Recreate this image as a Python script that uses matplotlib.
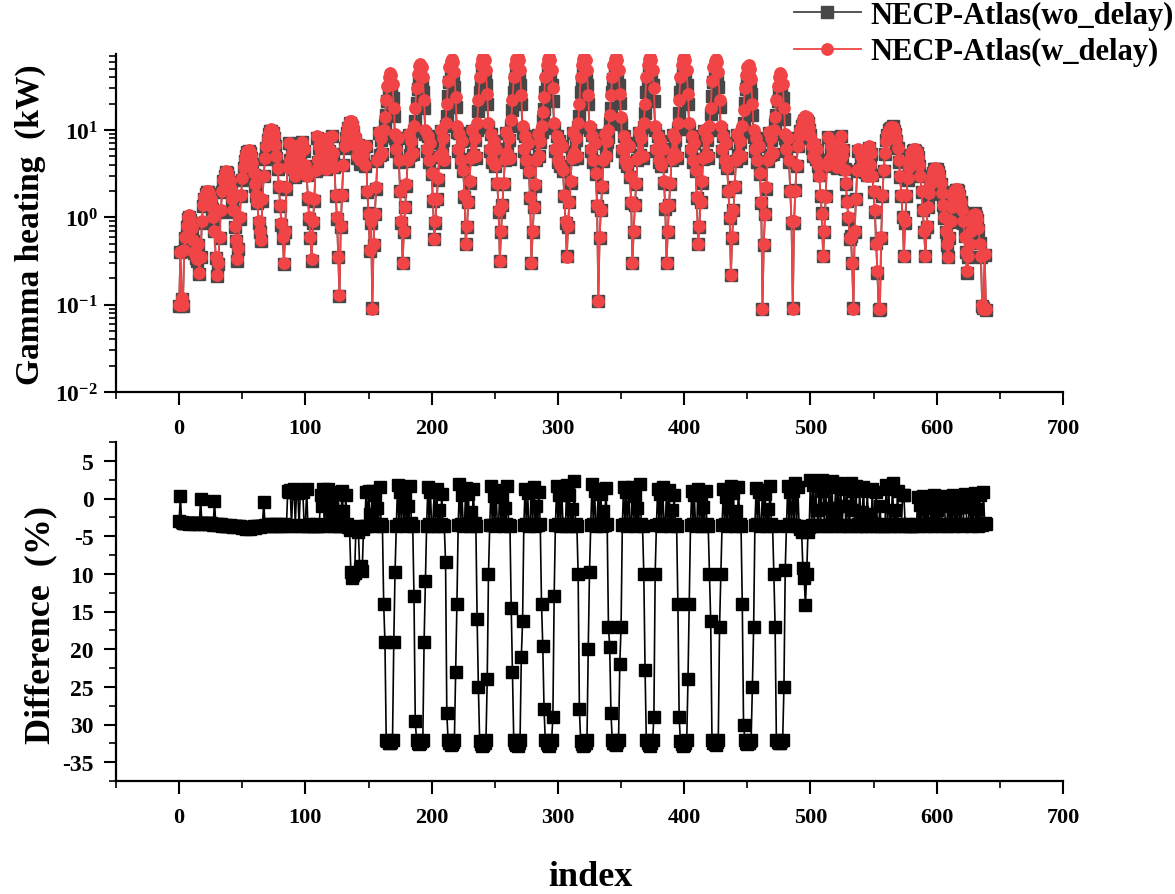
import numpy as np
import matplotlib
matplotlib.use("Agg")
import matplotlib.pyplot as plt
from matplotlib.ticker import MultipleLocator, FixedLocator, FixedFormatter, LogLocator, NullFormatter

# ---------------- data ----------------
# index 0-83 : left arches
w_a = [0.1, 0.4, 0.12, 0.1, 0.42, 0.6, 0.8, 1.0, 1.05, 0.95, 0.75, 0.55, 0.4, 0.35, 0.33, 0.5, 0.23,
       0.35, 0.9, 1.4, 1.7, 1.9, 2.0, 2.0, 1.9, 1.6, 1.3, 1.0, 0.7, 0.35, 0.22, 0.3,
       0.6, 1.2, 2.0, 2.7, 3.1, 3.4, 3.3, 3.0, 2.6, 2.1, 1.6, 1.2, 0.8, 0.55, 0.33, 0.45,
       1.0, 1.8, 2.8, 3.8, 4.6, 5.3, 5.8, 5.9, 5.6, 5.0, 4.2, 3.2, 2.4, 1.8, 1.5, 0.9, 0.7, 0.55,
       1.6, 3.0, 4.8, 6.5, 8.0, 9.2, 10.0, 10.2, 9.6, 8.5, 6.8, 5.0, 3.7, 2.3, 1.4, 0.85, 0.6, 0.3]
wo_a = [0.097, 0.4, 0.116, 0.097, 0.406, 0.58, 0.774, 0.968, 1.01, 0.919, 0.726, 0.532, 0.386, 0.338, 0.319, 0.484, 0.222,
        0.35, 0.87, 1.36, 1.64, 1.84, 1.93, 1.93, 1.84, 1.55, 1.26, 0.965, 0.698, 0.338, 0.212, 0.29,
        0.579, 1.16, 1.93, 2.61, 2.99, 3.28, 3.18, 2.89, 2.51, 2.02, 1.54, 1.15, 0.77, 0.53, 0.317, 0.433,
        0.963, 1.73, 2.69, 3.66, 4.42, 5.09, 5.57, 5.68, 5.38, 4.81, 4.04, 3.08, 2.31, 1.73, 1.45, 0.868, 0.673, 0.53,
        1.54, 2.99, 4.63, 6.27, 7.73, 8.88, 9.64, 9.85, 9.26, 8.19, 6.56, 4.83, 3.57, 2.22, 1.35, 0.819, 0.579, 0.29]
diff_a = [-3.0, 0.3, -3.1, -3.2, -3.3, -3.2, -3.3, -3.2, -3.4, -3.3, -3.2, -3.3, -3.4, -3.3, -3.2, -3.3, -3.4,
          0.0, -3.3, -3.2, -3.4, -3.3, -3.3, -3.4, -3.2, -3.3, -3.4, -3.5, -0.3, -3.4, -3.5, -3.4,
          -3.5, -3.4, -3.6, -3.5, -3.6, -3.5, -3.7, -3.6, -3.5, -3.7, -3.6, -3.8, -3.7, -3.6, -3.8, -3.7,
          -3.7, -3.8, -3.9, -3.8, -3.9, -4.0, -3.9, -3.8, -4.0, -3.9, -3.8, -3.7, -3.9, -3.8, -3.7, -3.6, -3.8, -3.7,
          -3.6, -0.4, -3.5, -3.6, -3.4, -3.5, -3.6, -3.4, -3.5, -3.6, -3.5, -3.4, -3.6, -3.5, -3.4, -3.6, -3.5, -3.4]

# index 84-152
w_b = [0.7, 2.2, 3.8, 7.0, 4.5, 5.5, 3.5, 6.5, 3.0, 5.0,
       4.0, 4.2, 5.5, 7.2, 3.2, 6.0, 4.0, 3.0, 1.7, 1.0,
       0.6, 0.33, 0.9, 1.6, 3.5, 8.5, 4.5, 6.5, 5.0, 5.5,
       4.2, 7.0, 3.6, 8.0, 5.0, 6.0, 4.5, 8.5, 5.5, 3.8,
       1.8, 1.0, 0.35, 0.13, 0.8, 1.8, 4.0, 6.5, 8.0, 9.5,
       11, 12.5, 12.8, 12, 10.5, 8.5, 6.5, 5.0, 7.0, 4.5,
       6.0, 5.0, 5.2, 4.0, 6.5, 2.0, 1.1, 0.42, 0.9]
wo_b = [0.676, 2.12, 3.84, 7.06, 4.55, 5.3, 3.53, 6.58, 2.9, 5.05,
        4.03, 4.04, 5.56, 7.27, 3.23, 5.78, 3.86, 3.04, 1.64, 0.966,
        0.579, 0.318, 0.868, 1.54, 3.38, 8.19, 4.34, 6.26, 5.03, 5.45,
        4.25, 6.75, 3.61, 7.72, 5.07, 5.8, 4.48, 8.57, 5.3, 3.73,
        1.74, 0.963, 0.352, 0.125, 0.772, 1.82, 3.94, 6.27, 8.04, 9.18,
        10.6, 12.0, 11.5, 10.7, 9.43, 7.66, 6.24, 4.82, 6.69, 4.08,
        5.46, 4.52, 4.99, 3.85, 6.55, 1.93, 1.11, 0.412, 0.869]
diff_b = [-3.5, -3.6, 1.0, 0.8, 1.1, -3.6, 0.9, 1.2, -3.5, 1.0,
          0.7, -3.7, 1.1, 1.0, 0.8, -3.6, -3.5, 1.2, -3.6, -3.4,
          -3.5, -3.7, -3.6, -3.5, -3.4, -3.6, -3.5, -3.7, 0.5, -1.0,
          1.2, -3.6, 0.3, -3.5, 1.3, -3.4, -0.5, 0.8, -3.6, -1.8,
          -3.5, -3.7, 0.6, -3.6, -3.5, 1.0, -1.6, -3.6, 0.5, -3.4,
          -3.8, -4.2, -9.8, -10.5, -10.2, -9.9, -4.0, -3.6, -4.5, -9.3,
          -9.0, -9.6, -4.0, -3.7, 0.8, -3.6, 1.0, -2.0, -3.5]

# index 153-485 : thirteen rows with the large peaks
w_p1 = [0.09, 0.5, 1.1, 2.2, 4.5, 9.5, 5.0, 8.0, 5.5, 10, 14, 22, 32, 40, 45, 42, 34, 18, 9, 6, 8, 4.5, 2.0, 0.9]
wo_p1 = [0.091, 0.48, 1.1, 2.1, 4.4, 9.2, 5.1, 7.7, 5.3, 8.6, 11.3, 15, 21.7, 27, 30.4, 28.4, 23.1, 14.6, 8.1, 5.8, 8.1, 4.3, 2.0, 0.87]
diff_p1 = [1.0, -3.4, 0.5, -3.6, -1.2, -3.5, 1.5, -3.4, -3.6, -14, -19, -32.0, -32.2, -32.4, -32.5, -32.3, -32.0, -19, -9.7, -3.6, 1.8, -3.4, 0.8, -3.5]

w_p2 = [0.3, 0.7, 1.3, 2.4, 4.5, 9, 5, 7.5, 5.5, 11, 18, 30, 44, 54, 57, 52, 40, 22, 10, 6, 8.5, 4.5, 7, 3.2, 1.6]
wo_p2 = [0.3, 0.68, 1.3, 2.3, 4.4, 8.7, 5.1, 7.2, 5.3, 9.6, 12.7, 20.4, 29.7, 36.4, 38.5, 35.3, 27.2, 17.8, 8.9, 5.8, 8.6, 4.3, 7.1, 3.1, 1.55]
diff_p2 = [1.2, -3.4, 0.4, -3.6, -1.0, -3.5, 1.6, -3.3, -3.6, -13, -29.5, -32.0, -32.4, -32.6, -32.5, -32.2, -32.0, -19, -11, -3.6, 1.5, -3.4, 0.9, -3.5, -3.6]

w_p3 = [0.57, 0.9, 1.6, 2.8, 5, 10, 5.5, 8, 4.5, 12, 20, 36, 52, 62, 65, 60, 46, 24, 11, 6, 9, 4.5, 7.5, 3.5, 1.8]
wo_p3 = [0.57, 0.87, 1.6, 2.7, 4.9, 9.7, 5.5, 7.7, 4.3, 11, 14.3, 24.4, 35.1, 41.7, 43.8, 40.6, 31.3, 18.5, 9.5, 5.8, 9.2, 4.3, 7.5, 3.4, 1.7]
diff_p3 = [0.8, -3.5, 1.3, -3.6, -1.5, -3.4, 0.6, -3.5, -3.7, -8.4, -28.5, -32.1, -32.5, -32.7, -32.6, -32.3, -32.0, -23, -14, -3.5, 1.9, -3.4, 0.5, -3.6, -3.5]

w_p4 = [0.5, 0.8, 1.5, 2.6, 4.8, 10, 5, 8, 5, 12, 22, 40, 56, 65, 68, 63, 48, 26, 12, 6, 9, 4.5, 7.5, 4, 6, 2.5, 1.2]
wo_p4 = [0.5, 0.77, 1.5, 2.5, 4.7, 9.7, 5.1, 7.7, 4.8, 10.1, 16.5, 27.1, 37.7, 43.7, 45.8, 42.6, 32.6, 19.8, 10.8, 5.8, 9.1, 4.3, 7.5, 3.9, 6.1, 2.4, 1.16]
diff_p4 = [1.4, -3.4, 0.6, -3.6, -1.8, -3.5, 1.2, -3.3, -3.6, -16, -25, -32.2, -32.6, -32.8, -32.7, -32.4, -32.1, -24, -10, -3.5, 1.6, -3.5, 0.3, -3.6, 1.1, -3.5, -3.4]

w_p5 = [0.32, 0.7, 1.4, 2.5, 4.6, 9.5, 5.5, 8, 4.8, 13, 22, 40, 56, 65, 68, 63, 48, 25, 11, 6, 8.5, 4.5, 7, 3.4, 1.7]
wo_p5 = [0.32, 0.68, 1.4, 2.4, 4.5, 9.2, 5.6, 7.7, 4.6, 11.1, 16.9, 27.2, 37.8, 43.7, 45.7, 42.6, 32.6, 19.8, 9.2, 5.8, 8.6, 4.3, 7, 3.3, 1.65]
diff_p5 = [1.0, -3.5, 0.2, -3.6, -1.3, -3.4, 1.7, -3.5, -3.7, -14.5, -23, -32.0, -32.5, -32.7, -32.8, -32.4, -32.0, -21, -16.3, -3.5, 1.3, -3.4, 0.7, -3.6, -3.5]

w_p6 = [0.3, 0.7, 1.3, 2.4, 4.5, 9, 5, 7.5, 11, 16, 24, 40, 56, 65, 68, 63, 48, 30, 12, 6, 8.5, 4.5, 7.5, 4, 6.5, 3.5, 1.8, 0.9]
wo_p6 = [0.3, 0.68, 1.3, 2.3, 4.5, 8.7, 5.0, 7.2, 9.5, 12.9, 17.3, 27.2, 37.8, 43.7, 45.7, 42.6, 32.6, 21.3, 10.4, 5.8, 8.6, 4.3, 7.5, 3.9, 6.6, 3.4, 1.74, 0.87]
diff_p6 = [0.9, -3.4, 1.5, -3.6, -1.0, -3.5, 0.8, -3.4, -14, -19.6, -28, -32.1, -32.5, -32.7, -32.8, -32.4, -32.1, -29, -13, -3.5, 1.6, -3.4, 0.4, -3.6, 1.2, -3.5, -3.4, -3.6]

w_p7 = [0.35, 0.8, 1.5, 2.6, 4.8, 9.5, 5.5, 8, 5, 12, 20, 40, 56, 65, 68, 63, 48, 25, 11, 6, 8.5, 4.5, 7, 3.2, 1.4]
wo_p7 = [0.36, 0.77, 1.5, 2.5, 4.7, 9.2, 5.6, 7.7, 4.8, 10.8, 14.4, 27.1, 37.7, 43.7, 45.8, 42.6, 32.6, 20, 9.9, 5.8, 8.7, 4.3, 7.1, 3.1, 1.35]
diff_p7 = [1.8, -3.4, 0.4, -3.6, -1.4, -3.5, 2.3, -3.4, -3.6, -10, -28, -32.2, -32.6, -32.8, -32.7, -32.4, -32.1, -20, -9.7, -3.5, 1.9, -3.4, 1.0, -3.6, -3.5]

w_p8 = [0.11, 0.6, 1.2, 2.3, 4.5, 9, 5, 7.5, 10, 15, 25, 40, 56, 65, 68, 63, 48, 26, 14, 6, 8.5, 4.5, 7, 4, 6.5, 3, 1.5]
wo_p8 = [0.11, 0.58, 1.2, 2.2, 4.4, 8.7, 5.1, 7.2, 8.3, 12, 17.9, 27.2, 37.8, 43.8, 45.8, 42.6, 32.6, 20.3, 11.6, 5.8, 8.6, 4.3, 7.1, 3.9, 6.6, 2.9, 1.45]
diff_p8 = [1.2, -3.4, 0.6, -3.6, -1.7, -3.5, 1.4, -3.4, -17, -19.7, -28.5, -32.0, -32.4, -32.6, -32.7, -32.3, -32.0, -22, -17, -3.5, 1.5, -3.4, 0.8, -3.6, 1.3, -3.5, -3.4]

w_p9 = [0.3, 0.7, 1.4, 2.5, 4.6, 9.5, 5, 8, 5, 12, 20, 40, 56, 65, 68, 63, 48, 30, 11, 6, 8.5, 4.5, 7.5, 4, 6, 2.6, 1.3]
wo_p9 = [0.3, 0.68, 1.4, 2.4, 4.5, 9.2, 5.1, 7.7, 4.8, 10.8, 15.5, 27.2, 37.8, 43.7, 45.7, 42.6, 32.6, 21.3, 9.9, 5.8, 8.6, 4.3, 7.5, 3.9, 6.1, 2.5, 1.26]
diff_p9 = [1.5, -3.4, 0.3, -3.6, -1.2, -3.5, 1.9, -3.4, -3.6, -10, -22.7, -32.1, -32.5, -32.7, -32.8, -32.4, -32.1, -29, -10, -3.5, 1.3, -3.4, 0.6, -3.6, 1.5, -3.5, -3.4]

w_p10 = [0.3, 0.7, 1.4, 2.5, 4.6, 9, 5.5, 8, 5, 12, 22, 40, 56, 65, 68, 63, 48, 26, 12, 6, 8.5, 4.5, 7, 3.5, 1.7]
wo_p10 = [0.3, 0.68, 1.4, 2.4, 4.5, 8.7, 5.5, 7.7, 4.8, 10.3, 15.6, 27.1, 37.7, 43.7, 45.8, 42.6, 32.6, 19.8, 10.3, 5.8, 8.6, 4.3, 7, 3.4, 1.65]
diff_p10 = [0.7, -3.4, 1.1, -3.6, -1.5, -3.5, 0.5, -3.4, -3.6, -14, -29, -32.2, -32.6, -32.8, -32.7, -32.4, -32.1, -24, -14, -3.5, 1.0, -3.4, 0.4, -3.6, -3.5]

w_p11 = [0.5, 0.8, 1.5, 2.6, 4.8, 10, 5, 8, 5, 11, 18, 36, 52, 62, 65, 60, 46, 22, 11, 6, 8.5, 4.5, 7, 3.8, 2, 1]
wo_p11 = [0.5, 0.77, 1.5, 2.5, 4.7, 9.7, 5.1, 7.7, 4.8, 9.9, 15.1, 24.5, 35.2, 41.8, 43.8, 40.6, 31.3, 18.3, 9.9, 5.8, 8.6, 4.3, 7, 3.7, 2, 0.97]
diff_p11 = [1.3, -3.4, 0.5, -3.6, -1.1, -3.5, 1.0, -3.4, -3.6, -10, -16.3, -32.0, -32.4, -32.6, -32.7, -32.3, -32.0, -17, -10, -3.5, 1.2, -3.4, 0.2, -3.6, 0.9, -3.5]

w_p12 = [0.22, 0.6, 1.2, 2.3, 4.5, 9, 5, 7.5, 5, 11, 17, 30, 43, 52, 55, 50, 38, 20, 10, 6, 8, 4.5, 6.5, 3.2, 1.5]
wo_p12 = [0.22, 0.58, 1.2, 2.2, 4.4, 8.7, 5.1, 7.2, 4.8, 9.5, 11.9, 20.4, 29.1, 35, 37.1, 33.9, 25.8, 15, 8.3, 5.8, 8.1, 4.3, 6.6, 3.1, 1.45]
diff_p12 = [1.6, -3.4, 0.7, -3.6, -1.6, -3.5, 1.5, -3.4, -3.6, -14, -30, -32.0, -32.4, -32.6, -32.5, -32.2, -32.0, -25, -17, -3.5, 1.4, -3.4, 0.8, -3.6, -3.5]

w_p13 = [0.09, 0.5, 1.1, 2.2, 4.5, 9.5, 5, 8, 5.5, 10, 14, 22, 32, 40, 45, 42, 34, 18, 9, 6, 8, 4.5, 2.0, 0.9]
wo_p13 = [0.09, 0.48, 1.1, 2.1, 4.4, 9.2, 5.1, 7.7, 5.3, 9, 11.6, 15, 21.7, 27, 30.4, 28.4, 23.1, 13.5, 8.1, 5.8, 8.1, 4.3, 2.0, 0.87]
diff_p13 = [1.1, -3.4, 0.6, -3.6, -1.4, -3.5, 1.7, -3.4, -3.6, -10, -17, -32.0, -32.3, -32.5, -32.5, -32.2, -32.0, -25, -9.5, -3.6, 1.6, -3.4, 0.9, -3.5]

# index 486-559
w_d = [0.09, 0.9, 2.0, 4.0, 6.5, 8.5, 10, 11.5, 13, 14.2,
       14.5, 14, 12.5, 10.5, 8.5, 6.5, 5.0, 7.0, 4.5, 6.0,
       4.0, 3.0, 1.8, 1.1, 0.36, 0.7, 1.7, 4.0, 8.3, 4.5,
       6.5, 5.0, 5.5, 4.2, 6.5, 3.8, 7.0, 4.5, 8.5, 5.0,
       6.0, 3.5, 2.5, 1.5, 1.0, 0.58, 0.6, 0.3, 0.09, 0.7,
       1.6, 3.5, 6.0, 3.5, 5.0, 4.0, 4.3, 3.4, 5.2, 3.0,
       6.5, 4.0, 5.5, 3.0, 2.0, 1.2, 0.5, 0.24, 0.09, 0.09,
       0.6, 1.8, 3.5, 5.5]
wo_d = [0.0909, 0.869, 2.04, 3.86, 6.6, 8.19, 9.6, 11.0, 11.8, 12.7,
        12.4, 12.6, 11.9, 10.1, 8.71, 6.27, 5.09, 6.75, 4.6, 5.91,
        3.86, 3.05, 1.73, 1.13, 0.364, 0.676, 1.73, 3.86, 8.2, 4.58,
        6.27, 5.12, 5.3, 4.12, 6.6, 3.67, 7.15, 4.34, 8.6, 4.83,
        5.94, 3.57, 2.41, 1.52, 0.965, 0.559, 0.612, 0.296, 0.0909, 0.676,
        1.63, 3.37, 5.8, 3.55, 4.82, 3.93, 4.36, 3.28, 5.01, 3.03,
        6.28, 3.92, 5.3, 3.04, 1.93, 1.16, 0.504, 0.231, 0.0869, 0.0891,
        0.578, 1.74, 3.37, 5.31]
diff_d = [1.0, -3.5, 2.0, -3.6, 1.5, -3.7, -4.0, -4.5, -9.2, -10.5,
          -14.2, -10.0, -4.5, -3.8, 2.5, -3.5, 1.8, -3.6, 2.2, -1.5,
          -3.5, 1.6, -3.7, 2.4, 1.0, -3.5, 2.0, -3.6, -1.2, 1.7,
          -3.5, 2.3, -3.7, -2.0, 1.5, -3.5, 2.1, -3.6, 1.2, -3.5,
          -1.0, 1.9, -3.7, 1.4, -3.5, -3.6, 2.0, -1.5, 1.0, -3.5,
          1.6, -3.6, -3.4, 1.3, -3.7, -1.8, 1.5, -3.5, -3.6, 1.0,
          -3.4, -2.0, -3.6, 1.2, -3.5, -3.4, 0.8, -3.6, -3.5, -1.0,
          -3.6, -3.4, -3.7, -3.5]

# index 560-639 : right arches
w_e = [7.5, 9.0, 10.0, 10.6, 10.9, 10.8, 10.2, 9.2, 7.8, 6.2,
       4.5, 3.0, 1.8, 1.0, 0.36, 0.9, 1.8, 2.8, 3.8, 4.7,
       5.4, 5.9, 6.1, 6.0, 5.6, 4.9, 4.0, 3.0, 2.0, 1.2,
       0.7, 0.36, 0.8, 1.3, 1.9, 2.4, 2.9, 3.3, 3.6, 3.7,
       3.6, 3.4, 3.0, 2.5, 1.9, 1.4, 1.0, 0.7, 0.5, 0.35,
       0.6, 0.9, 1.3, 1.7, 2.0, 2.1, 2.1, 2.0, 1.8, 1.5,
       1.2, 0.9, 0.6, 0.4, 0.24, 0.36, 0.5, 0.7, 0.9, 1.05,
       1.1, 1.05, 0.95, 0.75, 0.5, 0.36, 0.1, 0.09, 0.38, 0.09]
wo_e = [7.64, 8.69, 10.1, 10.2, 10.5, 11.0, 9.82, 9.06, 7.53, 6.26,
        4.34, 2.9, 1.74, 1.0, 0.361, 0.868, 1.74, 2.7, 3.66, 4.54,
        5.2, 5.69, 5.88, 5.8, 5.4, 4.91, 3.86, 2.98, 1.93, 1.2,
        0.676, 0.356, 0.771, 1.3, 1.83, 2.32, 2.89, 3.18, 3.61, 3.57,
        3.55, 3.28, 2.99, 2.41, 1.83, 1.4, 0.99, 0.676, 0.482, 0.35,
        0.579, 0.894, 1.26, 1.71, 1.93, 2.07, 2.03, 2.0, 1.74, 1.49,
        1.16, 0.869, 0.604, 0.396, 0.232, 0.348, 0.502, 0.675, 0.895, 1.01,
        1.11, 1.01, 0.937, 0.723, 0.502, 0.348, 0.0965, 0.0907, 0.367, 0.087]
diff_e = [1.8, -3.5, 1.2, -3.6, -3.4, 2.0, -3.7, -1.5, -3.5, 1.0,
          -3.6, -3.5, -3.4, 0.5, 0.4, -3.6, -3.5, -3.4, -3.6, -3.5,
          -3.7, -3.5, -3.6, -3.4, -3.5, 0.2, -3.6, -0.8, -3.5, 0.3,
          -3.4, -1.2, -3.6, 0.0, -3.5, -3.3, -0.5, -3.6, 0.4, -3.5,
          -1.5, -3.4, -0.2, -3.6, -3.5, 0.3, -1.0, -3.4, -3.6, 0.1,
          -3.5, -0.7, -3.4, 0.5, -3.6, -1.3, -3.5, 0.2, -3.4, -0.4,
          -3.6, -3.5, 0.6, -1.1, -3.5, -3.4, 0.3, -3.6, -0.6, -3.4,
          0.7, -3.5, -1.4, -3.6, 0.4, -3.4, -3.5, 0.8, -3.3, -3.4]

w_delay = (w_a + w_b + w_p1 + w_p2 + w_p3 + w_p4 + w_p5 + w_p6 + w_p7 + w_p8
           + w_p9 + w_p10 + w_p11 + w_p12 + w_p13 + w_d + w_e)
wo_delay = (wo_a + wo_b + wo_p1 + wo_p2 + wo_p3 + wo_p4 + wo_p5 + wo_p6 + wo_p7 + wo_p8
            + wo_p9 + wo_p10 + wo_p11 + wo_p12 + wo_p13 + wo_d + wo_e)
difference = (diff_a + diff_b + diff_p1 + diff_p2 + diff_p3 + diff_p4 + diff_p5 + diff_p6
              + diff_p7 + diff_p8 + diff_p9 + diff_p10 + diff_p11 + diff_p12 + diff_p13
              + diff_d + diff_e)
assert len(w_delay) == len(wo_delay) == len(difference) == 640, (len(w_delay), len(wo_delay), len(difference))
index = np.arange(len(w_delay))

series_labels = ["NECP-Atlas(wo_delay)", "NECP-Atlas(w_delay)"]
x_ticks = [0, 100, 200, 300, 400, 500, 600, 700]
diff_ticks = [5, 0, -5, -10, -15, -20, -25, -30, -35]
diff_tick_labels = ["5", "0", "-5", "10", "15", "20", "25", "30", "-35"]

# ---------------- style ----------------
plt.rcParams['font.family'] = ['Liberation Serif', 'DejaVu Serif']
plt.rcParams['font.weight'] = 'bold'
plt.rcParams['mathtext.fontset'] = 'custom'
plt.rcParams['mathtext.rm'] = 'Liberation Serif:bold'
plt.rcParams['mathtext.it'] = 'Liberation Serif:bold:italic'
plt.rcParams['mathtext.bf'] = 'Liberation Serif:bold'
plt.rcParams['axes.unicode_minus'] = False

W, H = 1175, 895
fig = plt.figure(figsize=(W / 100, H / 100), dpi=100)
ax1 = fig.add_axes([116 / W, 1 - 393 / H, (1063 - 116) / W, (393 - 55) / H])
ax2 = fig.add_axes([116 / W, 1 - 782 / H, (1063 - 116) / W, (782 - 443) / H])

gray = '#474747'
red = '#F04446'

l1, = ax1.plot(index, wo_delay, color=gray, marker='s', ms=8.3, mec=gray, mfc=gray, lw=1.3, label=series_labels[0])
l2, = ax1.plot(index, w_delay, color=red, marker='o', ms=8.2, mec=red, mfc=red, lw=1.3, label=series_labels[1])
ax1.set_yscale('log')
ax1.set_ylim(0.01, 74)
ax1.yaxis.set_major_locator(LogLocator(base=10, numticks=10))
ax1.yaxis.set_minor_locator(LogLocator(base=10, subs=np.arange(2, 10), numticks=20))
ax1.yaxis.set_minor_formatter(NullFormatter())

ax2.plot(index, difference, color='black', marker='s', ms=8, mec='black', mfc='black', lw=1.2)
ax2.set_ylim(-37.5, 7.5)
ax2.yaxis.set_major_locator(FixedLocator(diff_ticks))
ax2.yaxis.set_major_formatter(FixedFormatter(diff_tick_labels))
ax2.yaxis.set_minor_locator(MultipleLocator(2.5))

for ax in (ax1, ax2):
    ax.set_xlim(-50, 700)
    ax.xaxis.set_major_locator(FixedLocator(x_ticks))
    ax.xaxis.set_minor_locator(MultipleLocator(50))
    for s in ('top', 'right'):
        ax.spines[s].set_visible(False)
    for s in ('left', 'bottom'):
        ax.spines[s].set_linewidth(1.6)
    ax.tick_params(axis='both', which='major', direction='out', length=9, width=1.5)
    ax.tick_params(axis='both', which='minor', direction='out', length=5, width=1.2)
    ax.tick_params(axis='x', which='major', labelsize=16, pad=10)
    ax.tick_params(axis='y', which='major', labelsize=17, pad=4)
    for lab in ax.get_xticklabels() + ax.get_yticklabels():
        lab.set_fontweight('bold')
ax2.tick_params(axis='y', which='major', pad=7)

fig.text(30 / W, 1 - 225 / H, 'Gamma heating  (kW)', rotation=90, ha='center', va='center',
         fontsize=24, fontweight='bold')
fig.text(41 / W, 1 - 625 / H, 'Difference  (%)', rotation=90, ha='center', va='center',
         fontsize=26, fontweight='bold')
fig.text(590 / W, 1 - 878 / H, 'index', ha='center', va='center', fontsize=26, fontweight='bold')

fig.legend(handles=[l1, l2], labels=series_labels, loc='upper left',
           bbox_to_anchor=(792 / W, 1.0), frameon=False,
           handlelength=2.2, handletextpad=0.3, labelspacing=0.25,
           borderaxespad=0.0, borderpad=0.05,
           prop={'family': ['Liberation Serif'], 'weight': 'bold', 'size': 22})

fig.savefig('out.png', dpi=100)
